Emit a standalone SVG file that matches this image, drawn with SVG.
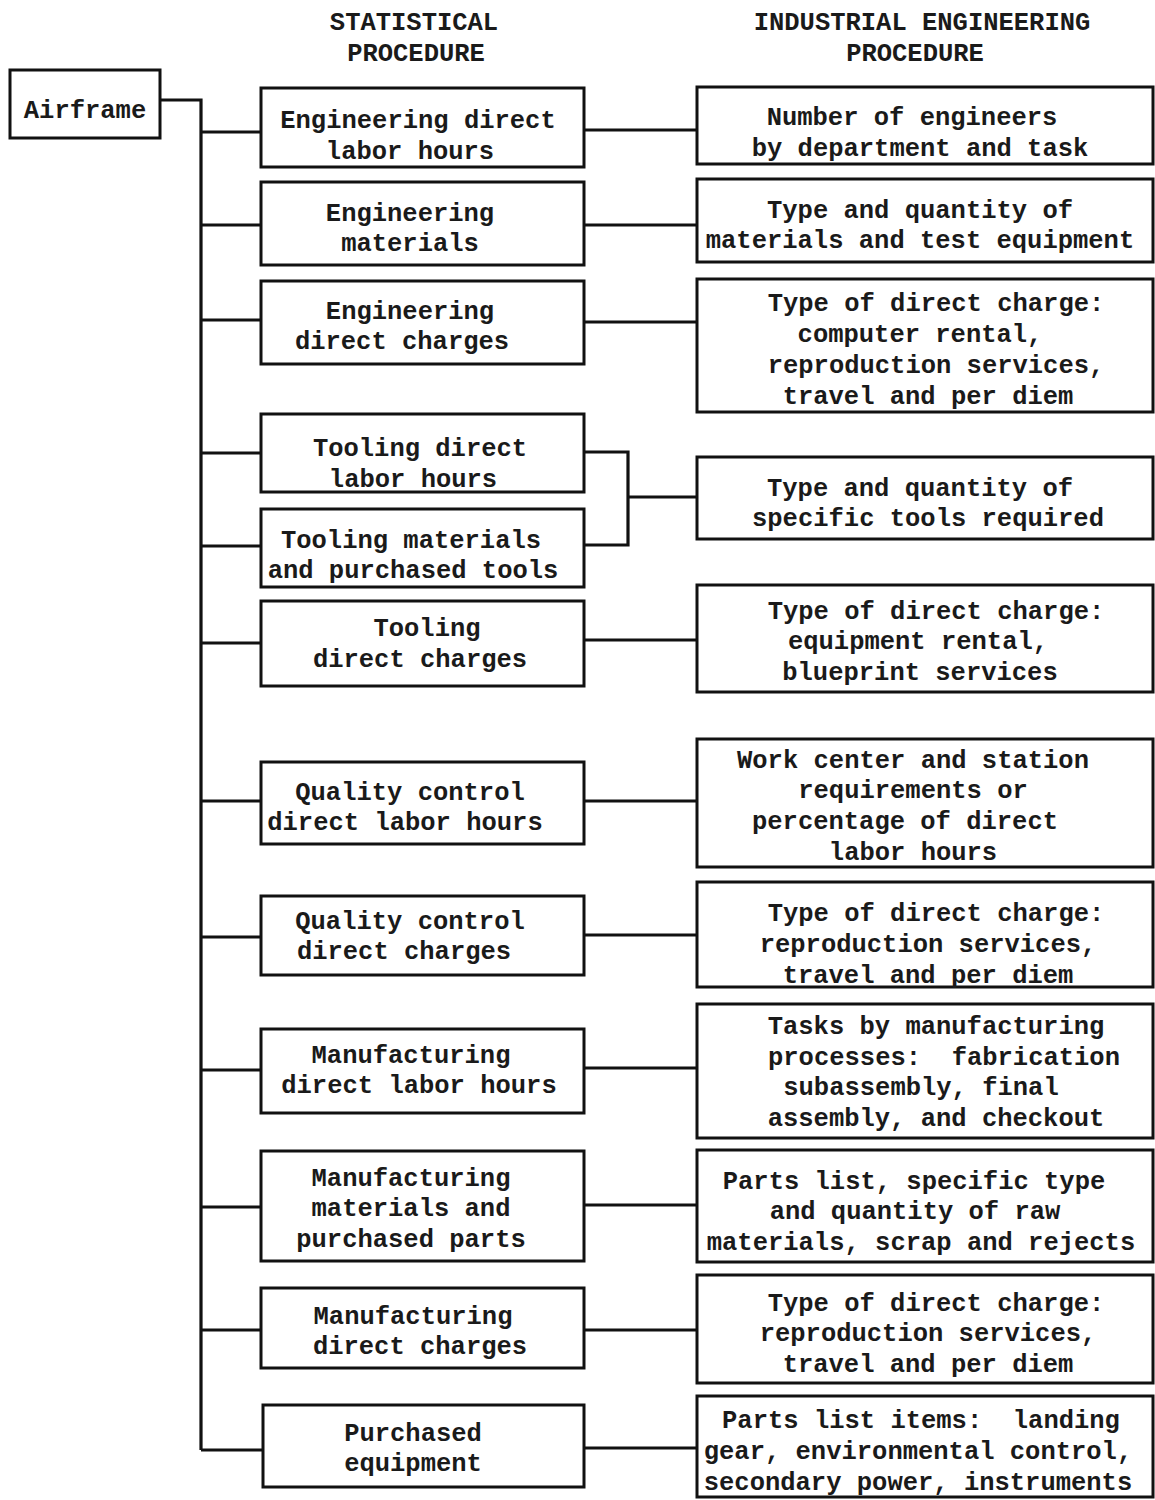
<svg xmlns="http://www.w3.org/2000/svg" width="1155" height="1500" viewBox="0 0 1155 1500">
<style>
.box{fill:#fff;stroke:#111;stroke-width:3}
.ln{fill:none;stroke:#111;stroke-width:3.2;stroke-linejoin:miter}
text{font-family:"Liberation Mono","Courier New",monospace;font-size:25.5px;font-weight:bold;fill:#1a1a1a;text-anchor:middle;white-space:pre}
</style>
<rect width="1155" height="1500" fill="#fff"/>
<g id="headers">
<text x="414" y="30">STATISTICAL</text>
<text x="416" y="61">PROCEDURE</text>
<text x="922" y="30">INDUSTRIAL ENGINEERING</text>
<text x="915" y="61">PROCEDURE</text>
</g>
<g id="connectors">
<path class="ln" d="M160,100 H201 V1450"/>
<path class="ln" d="M201,132 H261 M201,225 H261 M201,320 H261 M201,453 H261 M201,546 H261 M201,643 H261 M201,801 H261 M201,937 H261 M201,1070 H261 M201,1207 H261 M201,1330 H261 M201,1450 H263"/>
<path class="ln" d="M584,130 H697 M584,225 H697 M584,322 H697 M584,640 H697 M584,801 H697 M584,935 H697 M584,1068 H697 M584,1205 H697 M584,1330 H697 M584,1448 H697"/>
<path class="ln" d="M584,452 H628 V545 H584 M628,497 H697"/>
</g>
<g id="airframe"><rect class="box" x="10" y="70" width="150" height="68"/><text x="85" y="118">Airframe</text></g>
<g id="s1"><rect class="box" x="261" y="88" width="323" height="79"/><text x="418" y="128">Engineering direct</text><text x="410" y="159">labor hours</text></g>
<g id="s2"><rect class="box" x="261" y="182" width="323" height="83"/><text x="410" y="221">Engineering</text><text x="410" y="251">materials</text></g>
<g id="s3"><rect class="box" x="261" y="281" width="323" height="83"/><text x="410" y="319">Engineering</text><text x="402" y="349">direct charges</text></g>
<g id="s4"><rect class="box" x="261" y="414" width="323" height="78"/><text x="420" y="456">Tooling direct</text><text x="413" y="487">labor hours</text></g>
<g id="s5"><rect class="box" x="261" y="509" width="323" height="78"/><text x="411" y="548">Tooling materials</text><text x="413" y="578">and purchased tools</text></g>
<g id="s6"><rect class="box" x="261" y="601" width="323" height="85"/><text x="427" y="636">Tooling</text><text x="420" y="667">direct charges</text></g>
<g id="s7"><rect class="box" x="261" y="762" width="323" height="82"/><text x="410" y="800">Quality control</text><text x="405" y="830">direct labor hours</text></g>
<g id="s8"><rect class="box" x="261" y="896" width="323" height="79"/><text x="410" y="929">Quality control</text><text x="404" y="959">direct charges</text></g>
<g id="s9"><rect class="box" x="261" y="1029" width="323" height="84"/><text x="411" y="1063">Manufacturing</text><text x="419" y="1093">direct labor hours</text></g>
<g id="s10"><rect class="box" x="261" y="1151" width="323" height="110"/><text x="411" y="1186">Manufacturing</text><text x="411" y="1216">materials and</text><text x="411" y="1247">purchased parts</text></g>
<g id="s11"><rect class="box" x="261" y="1288" width="323" height="80"/><text x="413" y="1324">Manufacturing</text><text x="420" y="1354">direct charges</text></g>
<g id="s12"><rect class="box" x="263" y="1405" width="321" height="82"/><text x="413" y="1441">Purchased</text><text x="413" y="1471">equipment</text></g>
<g id="r1"><rect class="box" x="697" y="87" width="456" height="77"/><text x="912" y="125">Number of engineers</text><text x="920" y="156">by department and task</text></g>
<g id="r2"><rect class="box" x="697" y="179" width="456" height="83"/><text x="920" y="218">Type and quantity of</text><text x="920" y="248">materials and test equipment</text></g>
<g id="r3"><rect class="box" x="697" y="279" width="456" height="133"/><text x="936" y="311">Type of direct charge:</text><text x="920" y="342">computer rental,</text><text x="936" y="373">reproduction services,</text><text x="928" y="404">travel and per diem</text></g>
<g id="r4"><rect class="box" x="697" y="457" width="456" height="82"/><text x="920" y="496">Type and quantity of</text><text x="928" y="526">specific tools required</text></g>
<g id="r5"><rect class="box" x="697" y="585" width="456" height="107"/><text x="936" y="619">Type of direct charge:</text><text x="918" y="649">equipment rental,</text><text x="920" y="680">blueprint services</text></g>
<g id="r6"><rect class="box" x="697" y="739" width="456" height="128"/><text x="913" y="768">Work center and station</text><text x="913" y="798">requirements or</text><text x="905" y="829">percentage of direct</text><text x="913" y="860">labor hours</text></g>
<g id="r7"><rect class="box" x="697" y="882" width="456" height="105"/><text x="936" y="921">Type of direct charge:</text><text x="928" y="952">reproduction services,</text><text x="928" y="983">travel and per diem</text></g>
<g id="r8"><rect class="box" x="697" y="1004" width="456" height="134"/><text x="936" y="1034">Tasks by manufacturing</text><text x="944" y="1065">processes:  fabrication</text><text x="921" y="1095">subassembly, final</text><text x="936" y="1126">assembly, and checkout</text></g>
<g id="r9"><rect class="box" x="697" y="1150" width="456" height="112"/><text x="914" y="1189">Parts list, specific type</text><text x="915" y="1219">and quantity of raw</text><text x="921" y="1250">materials, scrap and rejects</text></g>
<g id="r10"><rect class="box" x="697" y="1275" width="456" height="108"/><text x="936" y="1311">Type of direct charge:</text><text x="928" y="1341">reproduction services,</text><text x="928" y="1372">travel and per diem</text></g>
<g id="r11"><rect class="box" x="697" y="1396" width="456" height="101"/><text x="921" y="1428">Parts list items:  landing</text><text x="918" y="1459">gear, environmental control,</text><text x="918" y="1490">secondary power, instruments</text></g>
</svg>
